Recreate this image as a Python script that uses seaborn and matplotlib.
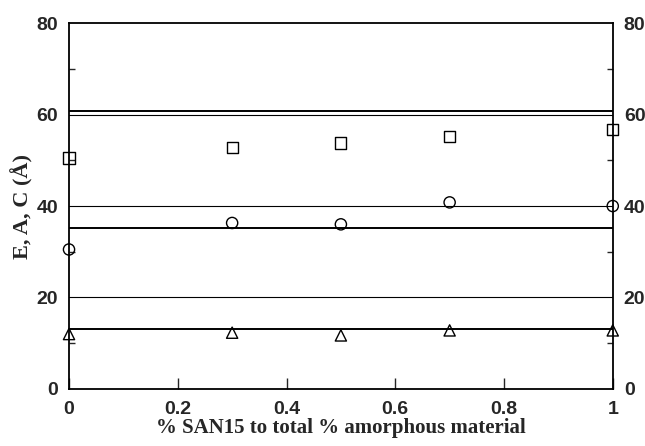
import matplotlib
matplotlib.use("Agg")
import matplotlib.pyplot as plt
import seaborn as sns
import pandas as pd

# data
frac_san = [0.0, 0.3, 0.5, 0.7, 1.0]
e_vals = [50.5, 52.8, 53.8, 55.2, 56.7]   # squares
a_vals = [30.5, 36.3, 36.0, 40.8, 40.0]   # circles
c_vals = [12.0, 12.3, 11.7, 12.8, 12.8]   # triangles
mean_lines = [60.7, 35.2, 13.0]
grid_vals = [20, 40, 60]

df = pd.DataFrame({
    "x": frac_san * 3,
    "y": e_vals + a_vals + c_vals,
    "s": ["E"] * 5 + ["A"] * 5 + ["C"] * 5,
})

sns.set_style("ticks")
plt.rcParams["font.family"] = ["Liberation Serif", "DejaVu Serif"]

fig = plt.figure(figsize=(6.45, 4.46), dpi=100)
ax = fig.add_axes([0.107, 0.128, 0.843, 0.820])

for g in grid_vals:
    ax.axhline(g, color="black", lw=0.8, zorder=1)
for m in mean_lines:
    ax.axhline(m, color="black", lw=1.4, zorder=1)

sns.scatterplot(data=df, x="x", y="y", style="s", markers={"E": "s", "A": "o", "C": "^"},
                s=65, legend=False, ax=ax, zorder=3, clip_on=False, linewidth=1.0)
# hollow markers
for coll in ax.collections:
    coll.set_facecolor("none")
    coll.set_edgecolor("black")

ax.set_xlim(0, 1)
ax.set_ylim(0, 80)
ax.set_xticks([0, 0.2, 0.4, 0.6, 0.8, 1])
ax.set_xticklabels(["0", "0.2", "0.4", "0.6", "0.8", "1"])
ax.set_yticks([0, 20, 40, 60, 80])
ax.set_yticks([10, 30, 50, 70], minor=True)

ax.tick_params(axis="x", direction="in", length=8, width=1, pad=9, labelsize=14)
ax.tick_params(axis="y", which="both", direction="in", left=True, right=True,
               labelleft=True, labelright=True, labelsize=14, pad=8)
ax.tick_params(axis="y", which="major", length=0)
ax.tick_params(axis="y", which="minor", length=4, width=1)
for lab in ax.get_xticklabels() + ax.get_yticklabels():
    lab.set_family(["Liberation Sans", "DejaVu Sans"])
    lab.set_fontweight("bold")

for sp in ax.spines.values():
    sp.set_visible(True)
    sp.set_color("black")
    sp.set_linewidth(1.3)

ax.set_xlabel("% SAN15 to total % amorphous material", fontsize=15, fontweight="bold", labelpad=0)
ax.set_ylabel("E, A, C (Å)", fontsize=16, fontweight="bold", labelpad=2)

fig.savefig("out.png", dpi=100)
